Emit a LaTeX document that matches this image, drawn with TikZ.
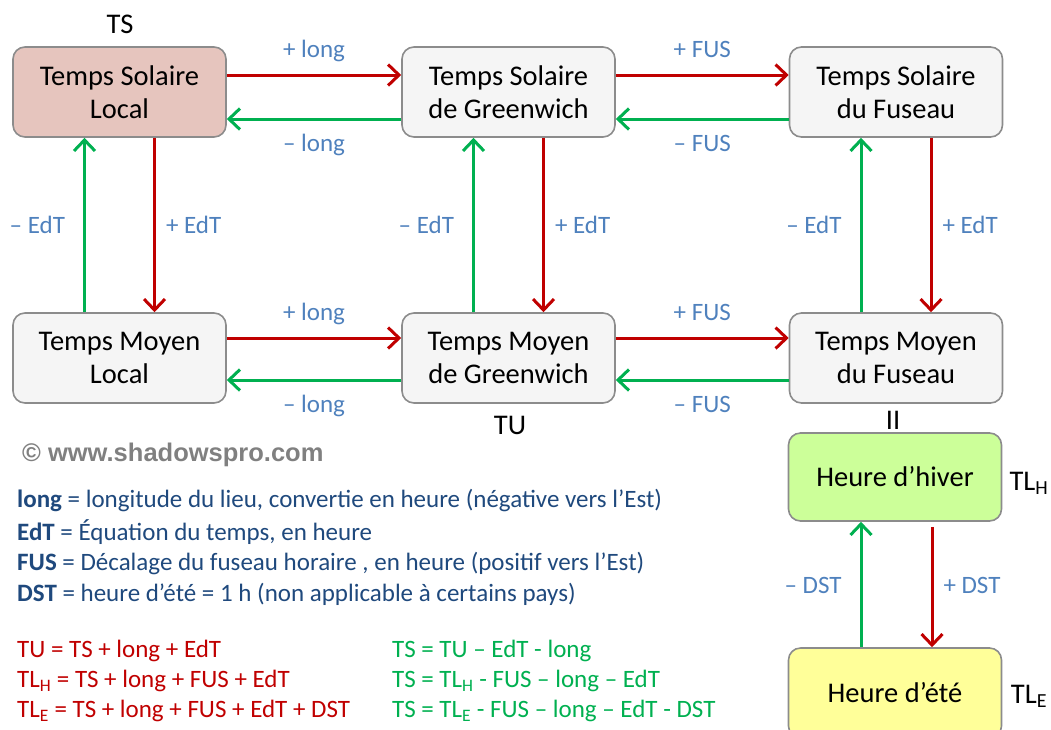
\documentclass[tikz,border=0pt]{standalone}
\usepackage{fontspec}
\setmainfont{Carlito}
\newfontfamily\wmfont{Liberation Sans}
\usetikzlibrary{arrows.meta, positioning}

\definecolor{boxline}{HTML}{8C8C8C}
\definecolor{boxfill}{HTML}{F5F5F5}
\definecolor{solfill}{HTML}{E6C5BE}
\definecolor{hiverfill}{HTML}{CCFF99}
\definecolor{etefill}{HTML}{FFFF99}
\definecolor{plusred}{HTML}{C00000}
\definecolor{minusgreen}{HTML}{00B050}
\definecolor{lblblue}{HTML}{4F81BD}
\definecolor{legblue}{HTML}{1F497D}
\definecolor{wmgray}{HTML}{808080}

\tikzset{
  box/.style={draw=boxline, line width=1.6pt, rounded corners=12pt, fill=boxfill,
    minimum width=213pt, minimum height=90pt, align=center, inner sep=0pt,
    font=\fontsize{28.5}{33}\selectfont},
  plus/.style={->, draw=plusred, line width=3pt},
  minus/.style={->, draw=minusgreen, line width=3pt},
  lbl/.style={text=lblblue, inner sep=0pt, text height=17pt, text depth=6pt,
    yshift=-3pt, font=\fontsize{25}{28}\selectfont},
  tag/.style={inner sep=0pt, font=\fontsize{28.5}{30}\selectfont},
  legend/.style={anchor=west, inner sep=0pt, font=\fontsize{25}{28}\selectfont},
}

\begin{document}
\begin{tikzpicture}[x=1pt, y=-1pt, >={Straight Barb[length=11pt, width=21pt]}]

\useasboundingbox (0,0) rectangle (1051,729);
\clip (0,0) rectangle (1051,729);

% the six time scales
\node[box, fill=solfill] (tsl) at (119.5,92) {Temps Solaire\\Local};
\node[box] (tsg) at (508.5,92) {Temps Solaire\\de Greenwich};
\node[box] (tsf) at (896,92) {Temps Solaire\\du Fuseau};
\node[box] (tml) at (119.5,358) {Temps Moyen\\Local};
\node[box] (tmg) at (508.5,358) {Temps Moyen\\de Greenwich};
\node[box] (tmf) at (896,358) {Temps Moyen\\du Fuseau};

% legal time
\node[box, fill=hiverfill, minimum height=88pt] (hiv) at (895,477) {Heure d’hiver};
\node[box, fill=etefill] (ete) at (895,693) {Heure d’été};

\node[tag] (ts) at (120,24) {TS};
\node[tag] (tu) at (510,425) {TU};
\node[tag] (eq) at (893,420) {II};
\node[tag] (tlh) at (1029,483) {TL\textsubscript{H}};
\node[tag] (tle) at (1029,696) {TL\textsubscript{E}};

% horizontal arrows
\foreach \a/\b/\w in {tsl/tsg/long, tsg/tsf/FUS} {
  \draw[plus] ([yshift=17pt]\a.east) -- node[lbl, above=13pt] {+ \w} ([yshift=17pt]\b.west);
  \draw[minus] ([yshift=-27pt]\b.west) -- node[lbl, below=11pt] {– \w} ([yshift=-27pt]\a.east);
}
\foreach \a/\b/\w in {tml/tmg/long, tmg/tmf/FUS} {
  \draw[plus] ([yshift=20pt]\a.east) -- node[lbl, above=13pt] {+ \w} ([yshift=20pt]\b.west);
  \draw[minus] ([yshift=-22pt]\b.west) -- node[lbl, below=11pt] {– \w} ([yshift=-22pt]\a.east);
}

% vertical arrows
\foreach \a/\b in {tsl/tml, tsg/tmg, tsf/tmf} {
  \draw[minus] ([xshift=-35pt]\b.north) -- node[lbl, left=18pt] {– EdT} ([xshift=-35pt]\a.south);
  \draw[plus] ([xshift=35pt]\a.south) -- node[lbl, right=10pt] {+ EdT} ([xshift=35pt]\b.north);
}
\draw[minus] ([xshift=-34pt]ete.north) -- node[lbl, left=18pt] {– DST} ([xshift=-34pt]hiv.south);
\draw[plus, shorten <=5pt] ([xshift=37pt]hiv.south) -- node[lbl, right=10pt] {+ DST} ([xshift=37pt]ete.north);

\node[anchor=west, inner sep=0pt, text=wmgray, font=\wmfont\bfseries\fontsize{25.5}{28}\selectfont]
  (wm) at (22,455) {© www.shadowspro.com};

% definitions
\foreach \y/\t/\d in {
  500/long/{longitude du lieu, convertie en heure (négative vers l’Est)},
  532/EdT/{Équation du temps, en heure},
  563/FUS/{Décalage du fuseau horaire , en heure (positif vers l’Est)},
  594/DST/{heure d’été = 1 h (non applicable à certains pays)}} {
  \node[legend, text=legblue] (def\t) at (17,\y) {\textbf{\t} = \d};
}

% formulas
\foreach \y/\f [count=\i] in {
  651/{TU = TS + long + EdT},
  681/{TL\textsubscript{H} = TS + long + FUS + EdT},
  711/{TL\textsubscript{E} = TS + long + FUS + EdT + DST}} {
  \node[legend, text=plusred] (fwd\i) at (17,\y) {\f};
}
\foreach \y/\f [count=\i] in {
  651/{TS = TU – EdT - long},
  681/{TS = TL\textsubscript{H} - FUS – long – EdT},
  711/{TS = TL\textsubscript{E} - FUS – long – EdT - DST}} {
  \node[legend, text=minusgreen] (bwd\i) at (392,\y) {\f};
}

\end{tikzpicture}
\end{document}
